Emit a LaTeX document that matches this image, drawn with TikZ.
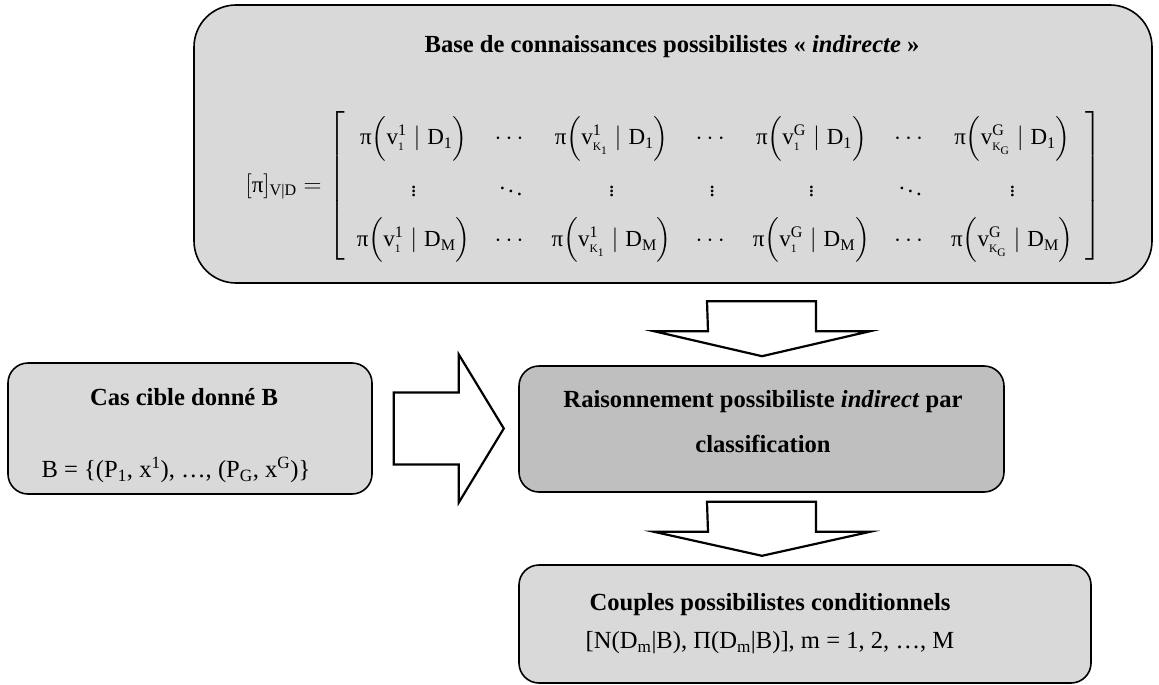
\documentclass[tikz,border=0pt]{standalone}
\usepackage{amsmath}
\usepackage[no-math]{fontspec}
\setmainfont{Liberation Serif}
\usetikzlibrary{calc}
\definecolor{boxgray}{HTML}{D9D9D9}
\definecolor{midgray}{HTML}{BFBFBF}
\newcommand{\tx}[1]{\text{#1}}
\newcommand{\pv}[3]{\tx{π}\Bigl(\tx{v}^{\tx{#1}}_{#2}\;|\;\tx{D}_{\tx{#3}}\Bigr)}
\newcommand{\oneidx}{\scriptscriptstyle\tx{1}}
\newcommand{\kidx}[1]{\scriptscriptstyle\tx{K}_{\tx{#1}}}
\newcommand{\lowsub}[1]{$_{\text{#1}}$}
\newcommand{\highsup}[1]{$^{\text{#1}}$}
\tikzset{
  roundbox/.style={draw=black, line width=1.6pt, fill=boxgray, rounded corners=20pt, inner sep=0pt},
  blockarrow/.style={draw=black, line width=2.2pt, fill=white, line join=miter},
  txt/.style={inner sep=0pt, font=\fontsize{24.6}{29.5}\selectfont},
  btxt/.style={inner sep=0pt, font=\fontsize{24.6}{29.5}\selectfont\bfseries},
  mtxt/.style={inner sep=0pt, font=\fontsize{23}{28}\selectfont}
}
\begin{document}
\begin{tikzpicture}[x=1pt,y=-1pt]
\useasboundingbox (0,0) rectangle (1159,685);
% boxes
\node[roundbox, rounded corners=42pt, minimum width=958pt, minimum height=278pt] (kb) at (673,144) {};
\node[roundbox, minimum width=364pt, minimum height=131pt] (cas) at (190,428.5) {};
\node[roundbox, fill=midgray, minimum width=485pt, minimum height=126pt] (mid) at (761.5,429) {};
\node[roundbox, minimum width=572pt, minimum height=118pt] (out) at (805,624) {};
% texts
\node[btxt] (kbtitle) at (672,47) {Base de connaissances possibilistes « \textit{indirecte} »};
\node[mtxt] (mat) at (674,186) {$\renewcommand{\arraystretch}{1.8}\setlength{\arraycolsep}{12pt}%
[\tx{π}]_{\tx{V|D}} = \left[\begin{array}{ccccccc}
\pv{1}{\oneidx}{1} & \cdots & \pv{1}{\kidx{1}}{1} & \cdots & \pv{G}{\oneidx}{1} & \cdots & \pv{G}{\kidx{G}}{1}\\
\vdots & \ddots & \vdots & \vdots & \vdots & \ddots & \vdots\\
\pv{1}{\oneidx}{M} & \cdots & \pv{1}{\kidx{1}}{M} & \cdots & \pv{G}{\oneidx}{M} & \cdots & \pv{G}{\kidx{G}}{M}
\end{array}\right]$};
\node[btxt] (castitle) at (184,397) {Cas cible donné B};
\node[txt] (casform) at (176,470) {B = \{(P\lowsub{1}, x\highsup{1}), …, (P\lowsub{G}, x\highsup{G})\}};
\node[btxt, align=center] (midtext) at (763,422) {Raisonnement possibiliste \textit{indirect} par\\[15.5pt]classification};
\node[btxt] (outtitle) at (770,605) {Couples possibilistes conditionnels};
\node[txt] (outform) at (770,643) {[N(D\lowsub{m}|B), Π(D\lowsub{m}|B)], m = 1, 2, …, M};
% block arrows
\coordinate (ra) at ($(cas.east)+(21,0)$);
\draw[blockarrow] (ra) ++(0,-36) -- ++(65,0) -- ++(0,-38) -- ++(45,74) -- ++(-45,74) -- ++(0,-38) -- ++(-65,0) -- cycle;
\coordinate (da1) at ($(mid.north)+(0,-64)$);
\draw[blockarrow] (da1) ++(-54.5,0) -- ++(109,0) -- ++(0,30) -- ++(54,0) -- ++(-108,25) -- ++(-108,-25) -- ++(54,0) -- cycle;
\coordinate (da2) at ($(mid.south)+(0,9)$);
\draw[blockarrow] (da2) ++(-54.5,0) -- ++(109,0) -- ++(0,30) -- ++(54,0) -- ++(-108,24) -- ++(-108,-24) -- ++(54,0) -- cycle;
\end{tikzpicture}
\end{document}
